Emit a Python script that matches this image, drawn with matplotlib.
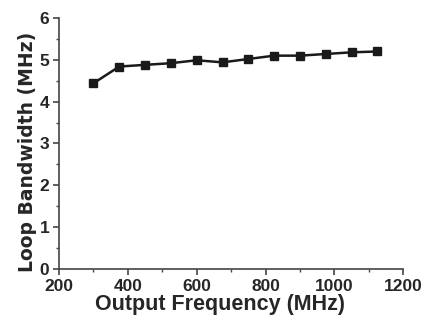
import numpy as np
import matplotlib
matplotlib.use("Agg")
import matplotlib.pyplot as plt
from matplotlib.ticker import MultipleLocator

freq = [300, 375, 450, 525, 600, 675, 750, 825, 900, 975, 1050, 1125]
bandwidth = [4.44, 4.84, 4.88, 4.92, 4.99, 4.94, 5.02, 5.10, 5.10, 5.14, 5.18, 5.20]

plt.rcParams['font.family'] = ['Liberation Sans', 'DejaVu Sans']
plt.rcParams['font.weight'] = 'bold'

fig = plt.figure(figsize=(4.28, 3.22), dpi=100)
ax = fig.add_axes([0.138, 0.165, 0.804, 0.779])
c = '#262626'
ax.plot(freq, bandwidth, '-s', color='#1a1a1a', markersize=6, linewidth=1.8)

ax.set_xlim(200, 1200)
ax.set_ylim(0, 6)
ax.xaxis.set_major_locator(MultipleLocator(200))
ax.xaxis.set_minor_locator(MultipleLocator(100))
ax.yaxis.set_major_locator(MultipleLocator(1))
ax.yaxis.set_minor_locator(MultipleLocator(0.5))
ax.spines['top'].set_visible(False)
ax.spines['right'].set_visible(False)
for s in ['left', 'bottom']:
    ax.spines[s].set_color('#444444')
    ax.spines[s].set_linewidth(1.2)
ax.tick_params(which='major', length=4, width=1.2, color='#444444', labelsize=12.5, labelcolor=c, pad=3)
ax.tick_params(which='minor', length=2.5, width=1.0, color='#444444')

ax.set_xlabel('Output Frequency (MHz)', fontsize=15.5, fontweight='bold', color=c, labelpad=1)
ax.xaxis.set_label_coords(0.468, -0.1, transform=ax.transAxes)
ax.xaxis.label.set_va('top')
ax.set_ylabel('Loop Bandwidth (MHz)', fontsize=13.5, fontweight='bold', color=c,
              family='DejaVu Sans')
ax.yaxis.set_label_coords(-0.064, 0.466)

fig.savefig('out.png', dpi=100)
